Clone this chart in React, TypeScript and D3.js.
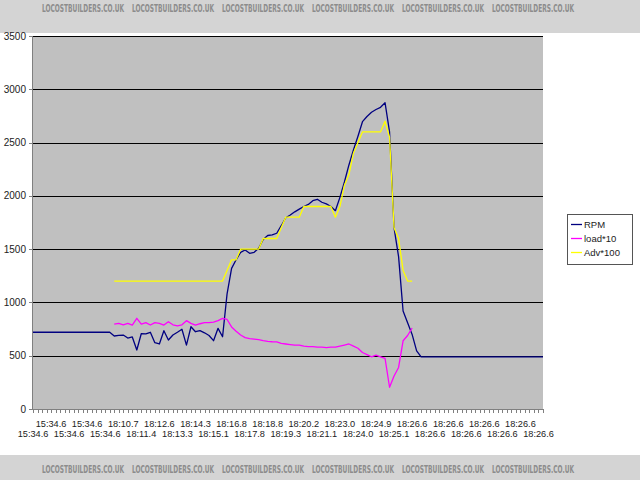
import React, { useLayoutEffect, useRef, useState } from "react";
import * as d3 from "d3";

const W = 640;
const H = 480;

const yTicks = [0, 500, 1000, 1500, 2000, 2500, 3000, 3500];

const tickLabels = [
  "15:34.6", "15:34.6", "15:34.6", "15:34.6", "15:34.6", "18:10.7", "18:11.4", "18:12.6",
  "18:13.3", "18:14.3", "18:15.1", "18:16.8", "18:17.8", "18:18.8", "18:19.3", "18:20.2",
  "18:21.1", "18:23.0", "18:24.0", "18:24.9", "18:25.1", "18:26.6", "18:26.6", "18:26.6",
  "18:26.6", "18:26.6", "18:26.6", "18:26.6", "18:26.6",
];
const labelEvery = 4;

const rpm: (number | null)[] = [
  720, 720, 720, 720, 720, 720, 720, 720, 720, 720, 720, 720, 720, 720, 720, 720, 720, 720,
  685, 690, 694, 666, 676, 554, 708, 704, 720, 622, 610, 735, 647, 694, 720, 748, 600, 772,
  725, 735, 715, 690, 641, 757, 678, 1080, 1320, 1400, 1470, 1492, 1461, 1470, 1508, 1590,
  1628, 1633, 1649, 1720, 1795, 1820, 1850, 1875, 1900, 1920, 1955, 1968, 1940, 1925, 1900,
  1861, 1986, 2130, 2290, 2430, 2560, 2696, 2745, 2785, 2810, 2831, 2874, 2600, 1700, 1430,
  920, 810, 700, 545, 490,
  490, 490, 490, 490, 490, 490, 490, 490, 490, 490, 490, 490, 490, 490, 490, 490, 490, 490,
  490, 490, 490, 490, 490, 490, 490, 490, 490,
];

const load: (number | null)[] = [
  null, null, null, null, null, null, null, null, null, null, null, null, null, null, null, null, null, null,
  797, 804, 790, 804, 788, 851, 797, 810, 788, 810, 804, 788, 819, 790, 779, 790, 829, 804,
  788, 800, 810, 810, 815, 829, 851, 840, 770, 730, 694, 670, 660, 655, 650, 641,
  635, 631, 630, 615, 610, 605, 600, 600, 590, 585, 585, 580, 580, 575, 580,
  580, 590, 600, 610, 590, 570, 530, 510, 490, 505, 490, 476, 204, 310, 390,
  640, 690, 760, null, null,
  null, null, null, null, null, null, null, null, null, null, null, null, null, null, null, null, null, null,
  null, null, null, null, null, null, null, null, null,
];

const adv: (number | null)[] = [
  null, null, null, null, null, null, null, null, null, null, null, null, null, null, null, null, null, null,
  1200, 1200, 1200, 1200, 1200, 1200, 1200, 1200, 1200, 1200, 1200, 1200, 1200, 1200, 1200, 1200, 1200, 1200,
  1200, 1200, 1200, 1200, 1200, 1200, 1200, 1300, 1400, 1400, 1500, 1500, 1500, 1500, 1500, 1600,
  1600, 1600, 1600, 1700, 1800, 1800, 1800, 1800, 1900, 1900, 1900, 1900, 1900, 1900, 1900,
  1800, 1900, 2100, 2200, 2400, 2500, 2600, 2600, 2600, 2600, 2600, 2700, 2550, 1700, 1600,
  1300, 1200, 1200, null, null,
  null, null, null, null, null, null, null, null, null, null, null, null, null, null, null, null, null, null,
  null, null, null, null, null, null, null, null, null,
];

const seriesNames = ["RPM", "load*10", "Adv*100"];
const seriesColors = ["#000080", "#ff00ff", "#ffff00"];
const watermark = "LOCOSTBUILDERS.CO.UK";

const plot = { left: 33, right: 543, top: 36, bottom: 409 };

export default function App() {
  const n = rpm.length;
  const x = d3.scaleLinear().domain([0, n - 1]).range([plot.left, plot.right]);
  const y = d3.scaleLinear().domain([0, 3500]).range([plot.bottom, plot.top]);
  const line = d3
    .line<number | null>()
    .defined((d) => d !== null)
    .x((_, i) => x(i))
    .y((d) => y(d as number));

  const series = [rpm, load, adv];
  const font = "'Liberation Sans', Arial, sans-serif";
  const wmFont = "'Liberation Sans Narrow', 'DejaVu Sans Condensed', sans-serif";
  const wmX = d3.range(0, 6).map((k) => 42 + k * 90);

  const measureRef = useRef<SVGTextElement | null>(null);
  const [wmSize, setWmSize] = useState(8);
  useLayoutEffect(() => {
    const el = measureRef.current;
    if (!el) return;
    const len = el.getComputedTextLength();
    if (len > 0) {
      const target = 82;
      const next = Math.min(12, (wmSize * target) / len);
      if (Math.abs(next - wmSize) > 0.05) setWmSize(next);
    }
  }, [wmSize]);

  return (
    <svg
      width={W}
      height={H}
      style={{ position: "absolute", left: 0, top: 0, background: "#fff" }}
      fontFamily={font}
    >
      <rect x={0} y={0} width={W} height={H} fill="#fff" />
      {/* watermark bands */}
      <rect x={0} y={0} width={W} height={33} fill="#d4d4d4" />
      <rect x={0} y={455} width={W} height={25} fill="#d4d4d4" />
      <g fill="#8c8c8c" fontWeight="bold" fontSize={wmSize} fontFamily={wmFont}>
        {wmX.map((wx, k) => (
          <g key={k}>
            <text
              ref={k === 0 ? measureRef : undefined}
              transform={`translate(${wx},12) scale(1,1.5)`}
            >
              {watermark}
            </text>
            <text transform={`translate(${wx},473) scale(1,1.5)`}>{watermark}</text>
          </g>
        ))}
      </g>

      {/* plot area */}
      <rect
        x={plot.left}
        y={plot.top}
        width={plot.right - plot.left}
        height={plot.bottom - plot.top}
        fill="#c0c0c0"
      />
      {yTicks.slice(1).map((t) => (
        <line
          key={t}
          x1={plot.left}
          x2={plot.right}
          y1={Math.round(y(t)) + 0.5}
          y2={Math.round(y(t)) + 0.5}
          stroke="#000"
          strokeWidth={1}
        />
      ))}
      {/* y axis */}
      <line x1={plot.left - 0.5} x2={plot.left - 0.5} y1={plot.top} y2={plot.bottom} stroke="#808080" />
      {yTicks.map((t) => (
        <g key={t}>
          <line
            x1={plot.left - 4}
            x2={plot.left}
            y1={Math.round(y(t)) + 0.5}
            y2={Math.round(y(t)) + 0.5}
            stroke="#808080"
          />
          <text x={26} y={y(t) + 3.5} textAnchor="end" fontSize={10} fill="#222">
            {t}
          </text>
        </g>
      ))}
      {/* x axis */}
      <line x1={plot.left} x2={plot.right} y1={plot.bottom + 0.5} y2={plot.bottom + 0.5} stroke="#808080" />
      {d3.range(n).map((i) => (
        <line
          key={i}
          x1={Math.round(x(i)) + 0.5}
          x2={Math.round(x(i)) + 0.5}
          y1={plot.bottom}
          y2={plot.bottom + 4}
          stroke="#808080"
        />
      ))}
      {tickLabels.map((lab, k) => (
        <text
          key={k}
          x={x(k * labelEvery)}
          y={k % 2 === 0 ? 437 : 427}
          textAnchor="middle"
          fontSize={9.2}
          fill="#222"
        >
          {lab}
        </text>
      ))}

      {/* series */}
      {series.map((s, si) => (
        <path
          key={si}
          d={line(s) || ""}
          fill="none"
          stroke={seriesColors[si]}
          strokeWidth={1.3}
          strokeLinejoin="round"
        />
      ))}

      {/* legend */}
      <rect x={567.5} y={214.5} width={65} height={50} fill="#fff" stroke="#555" />
      {seriesNames.map((name, i) => (
        <g key={name}>
          <line
            x1={571}
            x2={582}
            y1={224.5 + i * 14}
            y2={224.5 + i * 14}
            stroke={seriesColors[i]}
            strokeWidth={1.3}
          />
          <text x={584} y={228 + i * 14} fontSize={9.5} fill="#222">
            {name}
          </text>
        </g>
      ))}
    </svg>
  );
}
